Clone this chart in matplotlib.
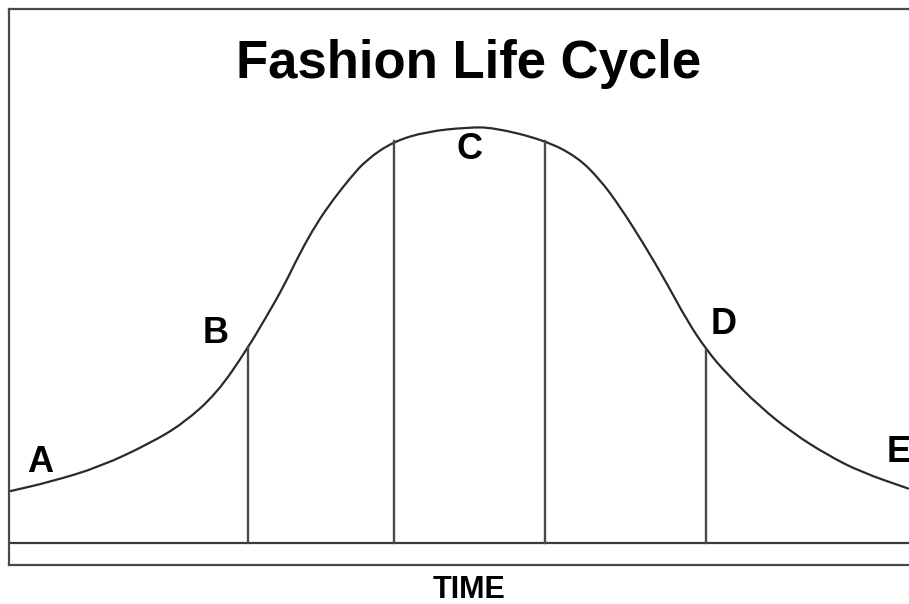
import numpy as np
import matplotlib.pyplot as plt
from matplotlib.path import Path
from matplotlib.patches import PathPatch

# curve: time (0-100) vs popularity (0 = base line, 100 = peak)
time = [0, 4.6, 10.1, 15.7, 19.4, 23.1, 26.4, 28.6, 30.5, 32.3, 34.2, 36.0, 37.9,
        39.7, 42.7, 46.4, 50.9, 53.8, 59.4, 63.1, 65.7, 67.9, 70.5, 73.1, 75.3,
        77.5, 79.7, 83.4, 87.1, 90.9, 94.6, 99.9]
popularity = [12.4, 14.7, 18.3, 24.0, 28.8, 36.0, 46.4, 54.4, 61.6, 69.6, 76.9, 82.5, 87.7,
              92.1, 96.5, 98.9, 99.9, 99.9, 96.9, 92.9, 87.3, 80.8, 72.0, 62.4, 53.6,
              46.4, 40.8, 32.8, 26.4, 21.2, 17.1, 13.1]

# stage boundaries along the time axis
stage_bounds = [26.6, 42.8, 59.6, 77.4]
stage_labels = ['A', 'B', 'C', 'D', 'E']

W, H = 909, 604
fig = plt.figure(figsize=(W / 100, H / 100), dpi=100)
plt.rcParams['font.family'] = ['Liberation Sans', 'DejaVu Sans']

# axes box: left edge at px 9, top at px 9, bottom at px 565, right edge just off the canvas
ax = fig.add_axes([9 / W, (H - 565) / H, (915 - 9) / W, (565 - 9) / H])
ax.set_xlim(0, (915 - 9) / 9)
ax.set_ylim(-22 / 4.16, 534 / 4.16)
for side in ['left', 'top', 'bottom', 'right']:
    ax.spines[side].set_color('#4a4a4a')
    ax.spines[side].set_linewidth(1.6)
ax.set_xticks([])
ax.set_yticks([])

ax.axhline(0, color='#3a3a3a', lw=1.6)

# smooth path through the read points: quadratic bezier segments, points as controls
pts = np.column_stack([time, popularity])
mids = (pts[:-1] + pts[1:]) / 2
verts = [pts[0], mids[0]]
codes = [Path.MOVETO, Path.LINETO]
for i in range(1, len(pts) - 1):
    verts += [pts[i], mids[i]]
    codes += [Path.CURVE3, Path.CURVE3]
verts.append(pts[-1])
codes.append(Path.LINETO)
ax.add_patch(PathPatch(Path(verts, codes), facecolor='none', edgecolor='#2a2a2a',
                       lw=1.6, capstyle='round', joinstyle='round'))

tops = np.interp(stage_bounds, time, popularity)
for x, top in zip(stage_bounds, tops):
    ax.plot([x, x], [0, top], color='#4a4a4a', lw=1.7)


def px_text(x, y, s, size, ha='center'):
    fig.text(x / W, 1 - y / H, s, fontsize=size, fontweight='bold', ha=ha, va='baseline')


px_text(469, 78, 'Fashion Life Cycle', 38)
label_pos = [(40, 472), (216, 343), (469, 159), (724, 334), (887, 462)]
for (x, y), s in zip(label_pos, stage_labels):
    px_text(x, y, s, 26, ha='left' if s == 'E' else 'center')
px_text(469, 598, 'TIME', 22)

fig.savefig('out.png', dpi=100)
